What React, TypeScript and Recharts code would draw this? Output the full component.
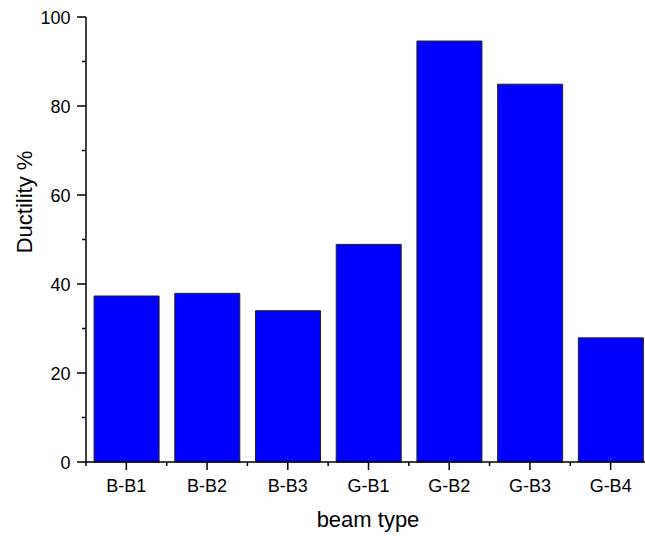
import React from "react";
import { BarChart, Bar, XAxis, YAxis } from "recharts";

const categories = ["B-B1", "B-B2", "B-B3", "G-B1", "G-B2", "G-B3", "G-B4"];
const ductility = [37.3, 37.9, 34.0, 48.9, 94.6, 84.9, 27.9];
const yTicks = [0, 10, 20, 30, 40, 50, 60, 70, 80, 90, 100];
const yLabelTicks = [0, 20, 40, 60, 80, 100];

const data = categories.map((c, i) => ({ name: c, value: ductility[i] }));

const CHART_W = 645;
const CHART_H = 536;
const Y_AXIS_W = 86;
const X_AXIS_H = 74;
const MARGIN = { top: 17, right: -6, left: 0, bottom: 0 };
const PLOT_W = CHART_W - Y_AXIS_W - MARGIN.right - MARGIN.left;
const BAND = PLOT_W / categories.length;
const FONT = "Arial, 'Liberation Sans', sans-serif";

const YTick = (props: any) => {
  const { x, y, payload } = props;
  const major = yLabelTicks.includes(payload.value);
  return (
    <g>
      <line x1={x} x2={x - (major ? 9 : 4)} y1={y} y2={y} stroke="#000" strokeWidth={1.5} />
      {major && (
        <text x={x - 15.5} y={y + 6.5} textAnchor="end" fontSize={18} fontFamily={FONT} fill="#000">
          {payload.value}
        </text>
      )}
    </g>
  );
};

const XTick = (props: any) => {
  const { x, y, payload, index } = props;
  const last = index === categories.length - 1;
  return (
    <g>
      <line x1={x} x2={x} y1={y} y2={y + 8} stroke="#000" strokeWidth={1.5} />
      <line x1={x - BAND / 2} x2={x - BAND / 2} y1={y} y2={y + 4} stroke="#000" strokeWidth={1.5} />
      {last && (
        <line x1={x + BAND / 2} x2={x + BAND / 2} y1={y} y2={y + 4} stroke="#000" strokeWidth={1.5} />
      )}
      <text x={x} y={y + 30} textAnchor="middle" fontSize={18} fontFamily={FONT} fill="#000">
        {payload.value}
      </text>
    </g>
  );
};

export default function App() {
  return (
    <div style={{ position: "absolute", left: 0, top: 0, width: 645, height: 536, overflow: "hidden", background: "#fff" }}>
      <BarChart width={CHART_W} height={CHART_H} data={data} margin={MARGIN}>
        <XAxis
          dataKey="name"
          height={X_AXIS_H}
          tickSize={0}
          tickMargin={0}
          tickLine={false}
          axisLine={{ stroke: "#000", strokeWidth: 1.5 }}
          tick={<XTick />}
          interval={0}
        />
        <YAxis
          width={Y_AXIS_W}
          domain={[0, 100]}
          ticks={yTicks}
          interval={0}
          tickSize={0}
          tickMargin={0}
          tickLine={false}
          axisLine={{ stroke: "#000", strokeWidth: 1.5 }}
          tick={<YTick />}
        />
        <Bar dataKey="value" fill="#0000FF" stroke="#222" strokeWidth={1} isAnimationActive={false} />
        <text x={32} y={202} transform="rotate(-90, 32, 202)" textAnchor="middle" fontSize={22} fontFamily={FONT} fill="#000">
          Ductility %
        </text>
        <text x={368} y={527} textAnchor="middle" fontSize={22} fontFamily={FONT} fill="#000">
          beam type
        </text>
      </BarChart>
    </div>
  );
}
